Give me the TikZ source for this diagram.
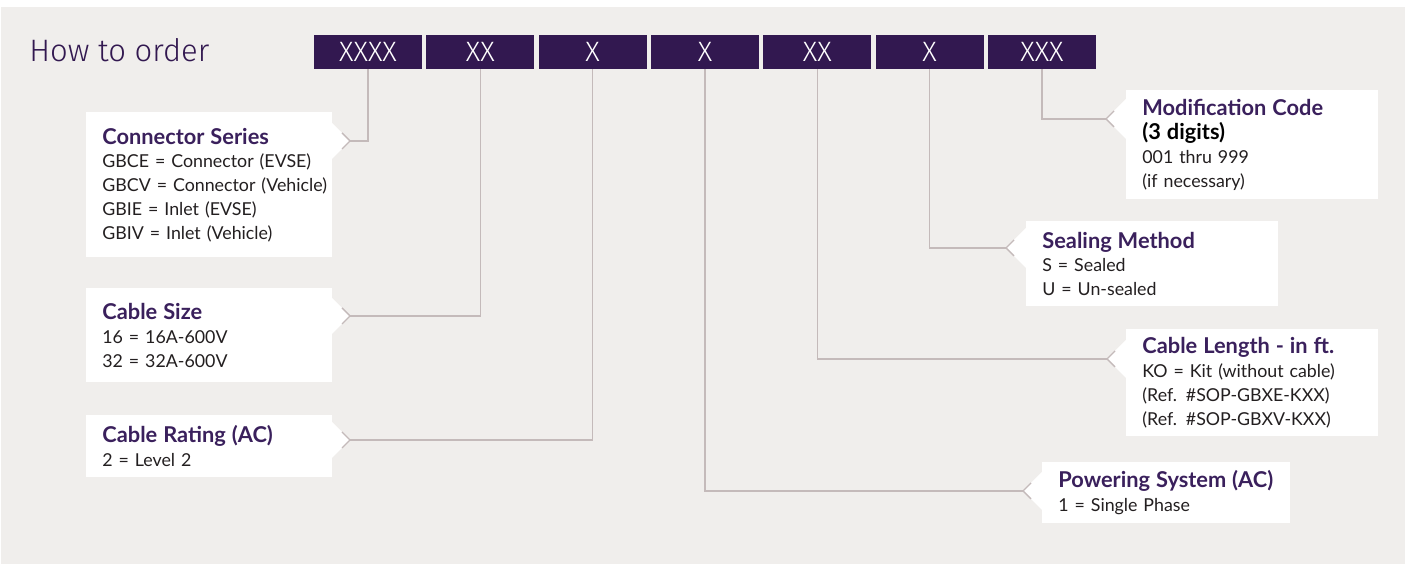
\documentclass[tikz,border=0pt]{standalone}
\usepackage{fontspec}
\setmainfont{Lato}
\newfontfamily\hwfont{Fira Sans Light}
\usetikzlibrary{calc,positioning}
\definecolor{bgray}{RGB}{240,238,236}
\definecolor{cpurp}{RGB}{50,24,80}
\definecolor{tpurp}{RGB}{58,32,92}
\definecolor{lgray}{RGB}{196,186,186}
\definecolor{btxt}{RGB}{35,31,32}
\newcommand{\hd}[2][tpurp]{\mbox{\color{#1}\bfseries\fontsize{10.9}{11.9}\selectfont #2}}
% white pointer of a callout, #1 tip, #2 = 1 (points right) or -1 (points left)
\newcommand{\tipmark}[2]{%
  \fill[white] ($(#1)+({-20*(#2)},-20)$) -- (#1) -- ($(#1)+({-20*(#2)},20)$) -- cycle;
  \draw[lnk] ($(#1)+({-8*(#2)},-8)$) -- (#1) -- ($(#1)+({-8*(#2)},8)$);}
\tikzset{
  code/.style={fill=cpurp, text=white, minimum width=54pt, minimum height=17pt,
               inner sep=0pt, font=\hwfont\fontsize{14}{14}\selectfont},
  bub/.style={fill=white, anchor=north west, inner xsep=8pt, inner ysep=2pt,
              align=left, text=btxt, font=\fontsize{8.9}{11.9}\selectfont},
  lnk/.style={lgray, line width=0.7pt},
}
\begin{document}
\begin{tikzpicture}[x=0.5pt, y=-0.5pt]
  \useasboundingbox (0,0) rectangle (1405,565);
  \fill[bgray] (1,7) rectangle (1405,564);
  \node[anchor=base west, inner sep=0pt, text=cpurp, font=\hwfont\fontsize{15.5}{16}\selectfont]
    (head) at (29,62) {How to order};
  \foreach \lab [count=\i] in {XXXX,XX,X,X,XX,X,XXX}
    \node[code] (c\i) at ({368+112.33*(\i-1)},52) {\lab};

  \node[bub, minimum width=123pt, minimum height=72.5pt, text width=107pt] (series) at (86,112)
    {\hd{Connector Series}\\GBCE = Connector (EVSE)\\\mbox{GBCV = Connector (Vehicle)}\\GBIE = Inlet (EVSE)\\GBIV = Inlet (Vehicle)};
  \node[bub, minimum width=123pt, minimum height=47pt, text width=107pt] (size) at (86,288)
    {\hd{Cable Size}\\16 = 16A-600V\\32 = 32A-600V};
  \node[bub, minimum width=123pt, minimum height=31pt, text width=107pt] (rating) at (86,415)
    {\hd{Cable Rating (AC)}\\2 = Level 2};
  \node[bub, minimum width=124pt, minimum height=30.5pt, text width=108pt] (power) at (1042,462)
    {\hd{Powering System (AC)}\\1 = Single Phase};
  \node[bub, minimum width=126pt, minimum height=53.5pt, text width=110pt] (length) at (1126,329)
    {\hd{Cable Length - in ft.}\\KO = Kit (without cable)\\(Ref. \#SOP-GBXE-KXX)\\(Ref. \#SOP-GBXV-KXX)};
  \node[bub, minimum width=126pt, minimum height=42.5pt, text width=110pt] (seal) at (1026,221)
    {\hd{Sealing Method}\\S = Sealed\\U = Un-sealed};
  \node[bub, minimum width=126pt, minimum height=54.5pt, text width=110pt] (modif) at (1126,90)
    {\hd{Modification Code}\\\hd[black]{(3 digits)}\\001 thru 999\\(if necessary)};

  \coordinate (t1) at (350,141);
  \coordinate (t2) at (350,316);
  \coordinate (t3) at (350,440);
  \coordinate (t4) at (1023,491);
  \coordinate (t5) at (1107,359);
  \coordinate (t6) at (1006,248);
  \coordinate (t7) at (1106,119);
  \foreach \t/\d in {t1/1,t2/1,t3/1,t4/-1,t5/-1,t6/-1,t7/-1}
    \tipmark{\t}{\d};
  \foreach \i in {1,...,7}
    \draw[lnk] (c\i.south) |- (t\i);
\end{tikzpicture}
\end{document}
